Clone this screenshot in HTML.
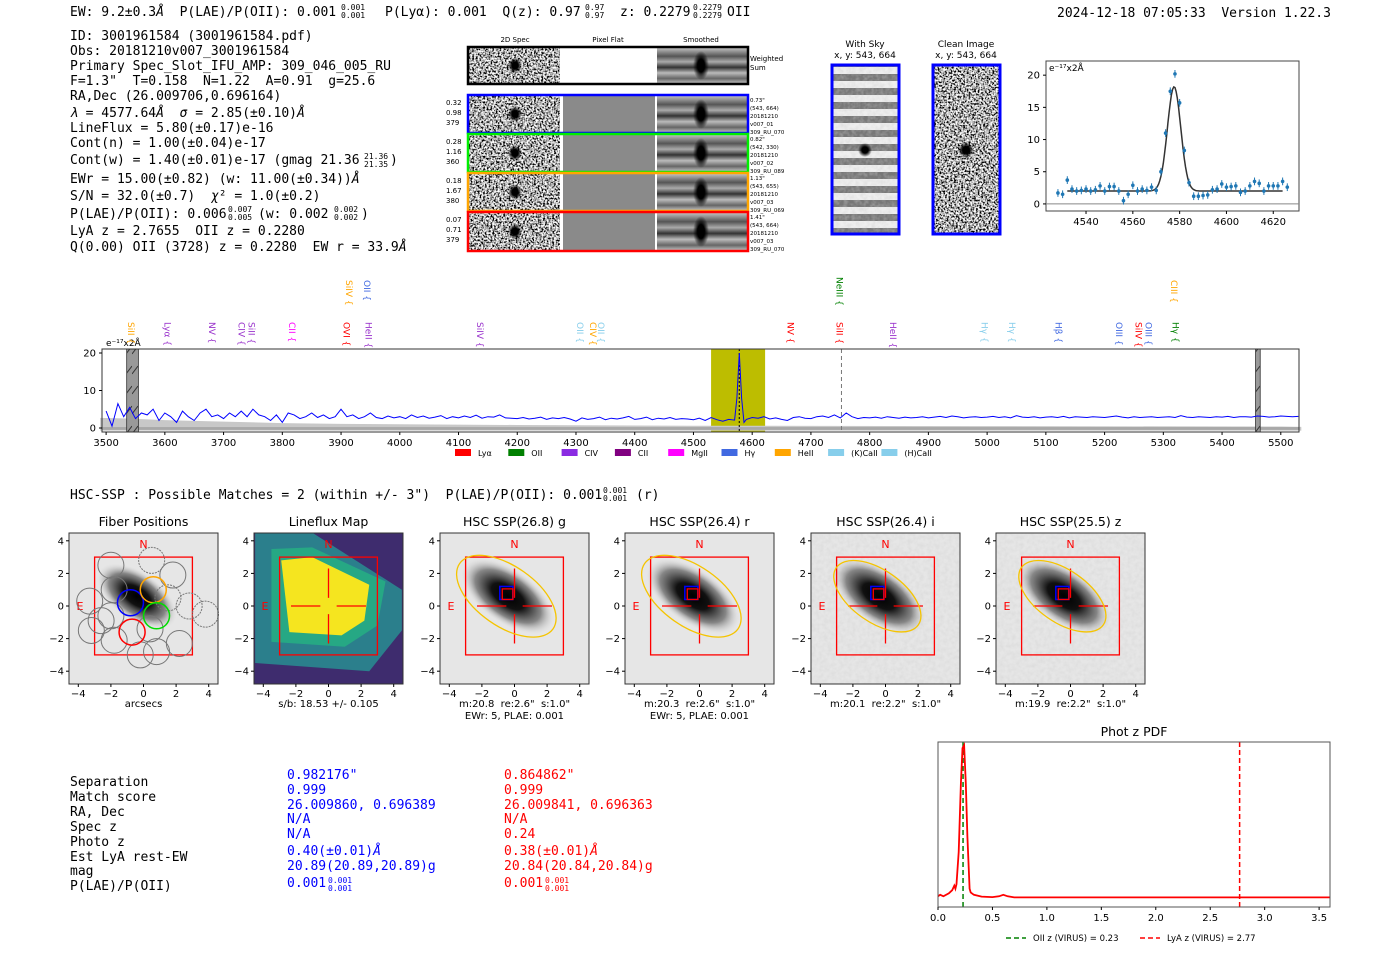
<!DOCTYPE html>
<html><head><meta charset="utf-8">
<style>
body{margin:0;background:#fff;width:1400px;height:953px;overflow:hidden}
svg{display:block}
svg text{white-space:pre}
.m{font-family:"DejaVu Sans Mono","Liberation Mono",monospace;fill:#000}
.m:not([font-size]){font-size:13px}
.s{font-family:"DejaVu Sans","Liberation Sans",sans-serif}
.t{font-family:"DejaVu Sans","Liberation Sans",sans-serif;fill:#000}
.t:not([font-size]){font-size:10px}
</style></head>
<body>
<svg id="root" width="1400" height="953" viewBox="0 0 1400 953" xmlns="http://www.w3.org/2000/svg">
<defs>
<filter id="noise" x="0" y="0" width="100%" height="100%"><feTurbulence type="fractalNoise" baseFrequency="0.55" numOctaves="2" seed="3"/><feColorMatrix type="matrix" values="3.2 0 0 0 -1.15  3.2 0 0 0 -1.15  3.2 0 0 0 -1.15  0 0 0 0 1"/><feComposite in2="SourceGraphic" operator="in"/></filter>
<filter id="noise2" x="0" y="0" width="100%" height="100%"><feTurbulence type="fractalNoise" baseFrequency="0.25" numOctaves="2" seed="7"/><feColorMatrix type="matrix" values="0 0 0 0 0.6  0 0 0 0 0.6  0 0 0 0 0.6  0 0 0 -1.2 0.8"/><feComposite in2="SourceGraphic" operator="in"/></filter>
<radialGradient id="blob"><stop offset="0" stop-color="#000"/><stop offset="0.45" stop-color="#000"/><stop offset="1" stop-color="#000" stop-opacity="0"/></radialGradient>
<radialGradient id="gal"><stop offset="0" stop-color="#000"/><stop offset="0.35" stop-color="#111"/><stop offset="0.7" stop-color="#666" stop-opacity="0.75"/><stop offset="1" stop-color="#ddd" stop-opacity="0"/></radialGradient>
<linearGradient id="smooth" x1="0" y1="0" x2="0" y2="1"><stop offset="0" stop-color="#ccc"/><stop offset="0.25" stop-color="#555"/><stop offset="0.4" stop-color="#aaa"/><stop offset="0.55" stop-color="#333"/><stop offset="0.7" stop-color="#bbb"/><stop offset="0.85" stop-color="#666"/><stop offset="1" stop-color="#ccc"/></linearGradient>
<pattern id="stripes" width="10" height="14" patternUnits="userSpaceOnUse"><rect width="10" height="14" fill="#eee"/><rect y="4" width="10" height="7" fill="#777"/></pattern>
<pattern id="hatch" width="6" height="20" patternUnits="userSpaceOnUse"><rect width="6" height="20" fill="#999"/><line x1="0" y1="14" x2="6" y2="6" stroke="#333" stroke-width="1"/></pattern>
</defs>

<g>
<text class="m" x="70" y="16">EW: 9.2±0.3<tspan font-style="italic">Å</tspan>  P(LAE)/P(OII): 0.001</text>
<text class="m" x="341" y="10" font-size="8">0.001</text><text class="m" x="341" y="18" font-size="8">0.001</text>
<text class="m" x="385" y="16">P(Lyα): 0.001  Q(z): 0.97</text>
<text class="m" x="585" y="10" font-size="8">0.97</text><text class="m" x="585" y="18" font-size="8">0.97</text>
<text class="m" x="620" y="16">z: 0.2279</text>
<text class="m" x="693" y="10" font-size="8">0.2279</text><text class="m" x="693" y="18" font-size="8">0.2279</text>
<text class="m" x="727" y="16">OII</text>
<text class="m" x="1057" y="17">2024-12-18 07:05:33  Version 1.22.3</text>
</g>

<g>
<text class="m" x="70" y="40">ID: 3001961584 (3001961584.pdf)</text>
<text class="m" x="70" y="55">Obs: 20181210v007_3001961584</text>
<text class="m" x="70" y="70">Primary Spec_Slot_IFU_AMP: 309_046_005_RU</text>
<text class="m" x="70" y="85">F=1.3"  T=0.158  N=1.22  A=0.91  g=25.6</text>
<text class="m" x="70" y="100">RA,Dec (26.009706,0.696164)</text>
<text class="m" x="70" y="117"><tspan font-style="italic">λ</tspan> = 4577.64<tspan font-style="italic">Å</tspan>  <tspan font-style="italic">σ</tspan> = 2.85(±0.10)<tspan font-style="italic">Å</tspan></text>
<text class="m" x="70" y="132">LineFlux = 5.80(±0.17)e-16</text>
<text class="m" x="70" y="147">Cont(n) = 1.00(±0.04)e-17</text>
<text class="m" x="70" y="164">Cont(w) = 1.40(±0.01)e-17 (gmag 21.36</text>
<text class="m" x="364" y="159" font-size="8">21.36</text><text class="m" x="364" y="167" font-size="8">21.35</text><text class="m" x="390" y="164">)</text>
<text class="m" x="70" y="183">EWr = 15.00(±0.82) (w: 11.00(±0.34))<tspan font-style="italic">Å</tspan></text>
<text class="m" x="70" y="200">S/N = 32.0(±0.7)  <tspan font-style="italic">χ</tspan>² = 1.0(±0.2)</text>
<text class="m" x="70" y="218">P(LAE)/P(OII): 0.006</text>
<text class="m" x="228" y="212" font-size="8">0.007</text><text class="m" x="228" y="220" font-size="8">0.005</text>
<text class="m" x="258" y="218">(w: 0.002</text><text class="m" x="334" y="212" font-size="8">0.002</text><text class="m" x="334" y="220" font-size="8">0.002</text><text class="m" x="361" y="218">)</text>
<text class="m" x="70" y="235">LyA z = 2.7655  OII z = 0.2280</text>
<text class="m" x="70" y="251">Q(0.00) OII (3728) z = 0.2280  EW r = 33.9<tspan font-style="italic">Å</tspan></text>
</g>

<g id="spec2d">
<text class="t" x="515" y="42" font-size="7" text-anchor="middle">2D Spec</text>
<text class="t" x="608" y="42" font-size="7" text-anchor="middle">Pixel Flat</text>
<text class="t" x="701" y="42" font-size="7" text-anchor="middle">Smoothed</text>
<text class="t" x="750" y="61" font-size="7">Weighted</text><text class="t" x="750" y="70" font-size="7">Sum</text>
</g>

<g>
<text class="t" x="865" y="47" text-anchor="middle" font-size="9">With Sky</text>
<text class="t" x="865" y="58" text-anchor="middle" font-size="9">x, y: 543, 664</text>
<rect x="832" y="65" width="67" height="169" fill="url(#stripes)"/>
<rect x="832" y="65" width="67" height="169" fill="#888" filter="url(#noise2)" opacity="0.6"/>
<circle cx="865" cy="150" r="7" fill="url(#blob)"/>
<rect x="832" y="65" width="67" height="169" fill="none" stroke="#00f" stroke-width="3"/>
<text class="t" x="966" y="47" text-anchor="middle" font-size="9">Clean Image</text>
<text class="t" x="966" y="58" text-anchor="middle" font-size="9">x, y: 543, 664</text>
<rect x="933" y="65" width="67" height="169" fill="#8c8c8c"/>
<rect x="933" y="65" width="67" height="169" fill="#888" filter="url(#noise)"/>
<circle cx="966" cy="150" r="8" fill="url(#blob)"/>
<rect x="933" y="65" width="67" height="169" fill="none" stroke="#00f" stroke-width="3"/>
</g>

<g id="zoomspec"></g>
<g id="mainspec"></g>

<text class="m" x="70" y="499">HSC-SSP : Possible Matches = 2 (within +/- 3")  P(LAE)/P(OII): 0.001</text>
<text class="m" x="603" y="493" font-size="8">0.001</text><text class="m" x="603" y="501" font-size="8">0.001</text>
<text class="m" x="636" y="499">(r)</text>

<g id="panels"></g>

<g>
<text class="m" x="70" y="786">Separation</text>
<text class="m" x="70" y="801">Match score</text>
<text class="m" x="70" y="816">RA, Dec</text>
<text class="m" x="70" y="831">Spec z</text>
<text class="m" x="70" y="846">Photo z</text>
<text class="m" x="70" y="861">Est LyA rest-EW</text>
<text class="m" x="70" y="875">mag</text>
<text class="m" x="70" y="890">P(LAE)/P(OII)</text>
<text class="m" style="fill:#00f" x="287" y="779">0.982176"</text>
<text class="m" style="fill:#00f" x="287" y="794">0.999</text>
<text class="m" style="fill:#00f" x="287" y="809">26.009860, 0.696389</text>
<text class="m" style="fill:#00f" x="287" y="823">N/A</text>
<text class="m" style="fill:#00f" x="287" y="838">N/A</text>
<text class="m" style="fill:#00f" x="287" y="855">0.40(±0.01)<tspan font-style="italic">Å</tspan></text>
<text class="m" style="fill:#00f" x="287" y="870">20.89(20.89,20.89)g</text>
<text class="m" style="fill:#00f" x="287" y="887">0.001</text>
<text class="m" style="fill:#00f" x="328" y="883" font-size="8">0.001</text><text class="m" style="fill:#00f" x="328" y="891" font-size="8">0.001</text>
<text class="m" style="fill:#f00" x="504" y="779">0.864862"</text>
<text class="m" style="fill:#f00" x="504" y="794">0.999</text>
<text class="m" style="fill:#f00" x="504" y="809">26.009841, 0.696363</text>
<text class="m" style="fill:#f00" x="504" y="823">N/A</text>
<text class="m" style="fill:#f00" x="504" y="838">0.24</text>
<text class="m" style="fill:#f00" x="504" y="855">0.38(±0.01)<tspan font-style="italic">Å</tspan></text>
<text class="m" style="fill:#f00" x="504" y="870">20.84(20.84,20.84)g</text>
<text class="m" style="fill:#f00" x="504" y="887">0.001</text>
<text class="m" style="fill:#f00" x="545" y="883" font-size="8">0.001</text><text class="m" style="fill:#f00" x="545" y="891" font-size="8">0.001</text>
</g>

<g id="photz"></g>
</svg>

<script>
// ===== data =====
const specWave = [3500,3510,3520,3530,3540,3550,3560,3570,3580,3590,3600,3610,3620,3630,3640,3650,3660,3670,3680,3690,3700,3710,3720,3730,3740,3750,3760,3770,3780,3790,3800,3810,3820,3830,3840,3850,3860,3870,3880,3890,3900,3910,3920,3930,3940,3950,3960,3970,3980,3990,4000,4010,4020,4030,4040,4050,4060,4070,4080,4090,4100,4110,4120,4130,4140,4150,4160,4170,4180,4190,4200,4210,4220,4230,4240,4250,4260,4270,4280,4290,4300,4310,4320,4330,4340,4350,4360,4370,4380,4390,4400,4410,4420,4430,4440,4450,4460,4470,4480,4490,4500,4510,4520,4530,4540,4550,4560,4570,4574,4578,4582,4586,4590,4600,4610,4620,4630,4640,4650,4660,4670,4680,4690,4700,4710,4720,4730,4740,4750,4760,4770,4780,4790,4800,4810,4820,4830,4840,4850,4860,4870,4880,4890,4900,4910,4920,4930,4940,4950,4960,4970,4980,4990,5000,5010,5020,5030,5040,5050,5060,5070,5080,5090,5100,5110,5120,5130,5140,5150,5160,5170,5180,5190,5200,5210,5220,5230,5240,5250,5260,5270,5280,5290,5300,5310,5320,5330,5340,5350,5360,5370,5380,5390,5400,5410,5420,5430,5440,5450,5460,5470,5480,5490,5500,5510,5520,5530];
const specFlux = [4.5,0.5,6.5,3,5.5,2.5,4,3.5,5,2, 4,3,1.5,4.5,3,2,4,5,3,3.5, 2.5,4,3,4.5,3,5,3.5,3,2,3.5, 1.5,4,3.5,2.5,3,4,2.8,3.5,2.5,3, 5,3,3.5,2.5,3,4,2.8,2.5,3.2,2.7, 3,2.5,3.5,2.8,3.2,2.6,2.9,3.3,2.5,3, 2.7,3.2,2.8,3.4,2.6,3,2.9,3.5,2.7,2.6, 2.5,2.8,2.4,2.6,2.9,2.3,2.7,2.5,2.8,2.4, 1.8,2.7,2.3,2.5,2.9,2.2,2.6,2.4,2.7,3.1, 2.3,2.5,2.9,2.2,2.6,2.4,2.8,2.3,2.5,2.4, 2.2,2.6,2,2.8,2.2,1.8,2.3,2.1,8,20,8,1.5,2.3, 2.8,2.6,3,2.4,2.7,2.3,2,2.8,3,2.6, 2.5,3,3.2,2.8,3.5,2.7,4,3,2.5,2.8, 2.7,2.9,2.6,3,2.8,2.6,2.9,2.7,2.8,3, 2.7,2.9,3.1,2.8,3.2,3,2.7,2.9,3,2.8, 2.9,3.1,2.8,3,2.7,3.3,2.9,2.8,3,2.7, 2.9,3,2.8,3.1,2.7,3,2.9,2.8,3,2.9, 2.8,3,3.2,2.9,2.7,3,2.8,2.9,3,2.8, 2.9,3,2.8,3.3,2.9,2.8,3,2.9,2.8,3, 2.9,3.1,2.8,3,3,2.9,3.2,3.1,2.9,3, 3.2,3.1,3,3.1];
const errWave = [3490,3540,3600,3700,3800,3900,4000,4200,4500,5000,5500,5535];
const errTop = [2.7,2.5,2.1,1.7,1.3,1.1,1.0,0.8,0.6,0.5,0.4,0.3];
const specTicks = [3500,3600,3700,3800,3900,4000,4100,4200,4300,4400,4500,4600,4700,4800,4900,5000,5100,5200,5300,5400,5500];
const specYTicks = [0,10,20];
const lineNames = ["SiII","Lyα","NV","CIV","SiII","CII","OVI","HeII","SiIV","OII","CIV","OII","NV","SiII","HeII","Hγ","Hγ","Hβ","OIII","SiIV","OIII","Hγ","SiIV","OII","NeIII","CIII"];
const lineWave = [3546,3608,3684,3734,3751,3820,3913,3950,4140,4310,4332,4346,4669,4752,4843,4999,5046,5125,5228,5261,5278,5324,3917,3948,4752,5322];
const lineRow = [0,0,0,0,0,0,0,0,0,0,0,0,0,0,0,0,0,0,0,0,0,0,1,1,2,1];
const lineColor = ["#ffa500","#9932cc","#9932cc","#9932cc","#9932cc","#ff00ff","#ff0000","#9932cc","#9932cc","#87ceeb","#ffa500","#87ceeb","#ff0000","#ff0000","#9932cc","#87ceeb","#87ceeb","#4169e1","#4169e1","#ff0000","#4169e1","#008000","#ffa500","#4169e1","#008000","#ffa500"];
const legendNames = ["Lyα","OII","CIV","CII","MgII","Hγ","HeII","(K)CaII","(H)CaII"];
const legendColors = ["#ff0000","#008000","#8a2be2","#800080","#ff00ff","#4169e1","#ffa500","#87ceeb","#87ceeb"];

const fitWave = [4528,4530,4532,4534,4536,4538,4540,4542,4544,4546,4548,4550,4552,4554,4556,4558,4560,4562,4564,4566,4568,4570,4572,4574,4576,4578,4580,4582,4584,4586,4588,4590,4592,4594,4596,4598,4600,4602,4604,4606,4608,4610,4612,4614,4616,4618,4620,4622,4624,4626];
const fitFlux = [1.7,1.5,3.7,2.3,2.0,2.1,2.3,2.0,2.2,2.8,2.0,2.7,2.7,2.0,0.5,1.5,2.9,2.0,2.3,2.1,2.6,2.1,5.0,11.0,17.5,20.2,15.7,8.3,3.3,1.2,1.2,1.3,1.4,2.2,2.3,3.1,2.6,2.7,2.8,1.8,2.0,2.8,3.5,3.2,2.0,2.8,2.8,2.8,3.5,2.6];
const fitParams = [4577.64, 2.85, 16.2, 2.0];
const fitXTicks = [4540,4560,4580,4600,4620];
const fitYTicks = [0,5,10,15,20];

const photzZ = [0,0.02,0.05,0.1,0.13,0.15,0.16,0.17,0.19,0.21,0.225,0.24,0.255,0.27,0.29,0.3,0.33,0.4,0.5,0.56,0.6,0.64,0.7,1.0,2.0,3.0,3.6];
const photzP = [0.01,0.02,0.01,0.03,0.05,0.08,0.06,0.09,0.3,0.75,0.98,1.0,0.75,0.4,0.06,0.035,0.02,0.008,0.005,0.01,0.02,0.01,0.003,0.003,0.003,0.003,0.003];
const photzTicks = [0,0.5,1.0,1.5,2.0,2.5,3.0,3.5];
const photzMarks = [0.23,2.77];

const panelTitles = ["Fiber Positions","Lineflux Map","HSC SSP(26.8) g","HSC SSP(26.4) r","HSC SSP(26.4) i","HSC SSP(25.5) z"];
const panelCaps = [["arcsecs"],["s/b: 18.53 +/- 0.105"],['m:20.8  re:2.6"  s:1.0"',"EWr: 5, PLAE: 0.001"],['m:20.3  re:2.6"  s:1.0"',"EWr: 5, PLAE: 0.001"],['m:20.1  re:2.2"  s:1.0"'],['m:19.9  re:2.2"  s:1.0"']];
const panelTicks = [-4,-2,0,2,4];
const fiberX = [-2,0.5,-1.8,-3.3,-2,1.5,2.8,-3.2,-1.8,0.8,2.2,-0.2,1.8,-2.6,3.8,0.4];
const fiberY = [2.5,2.8,1,0.3,-0.6,0.5,0,-1.5,-2.1,-2.8,-2.3,-3,1.9,-0.9,-0.5,-1.4];
const fiberCX = [-0.8,0.6,0.8,-0.7];
const fiberCY = [0.2,1.0,-0.6,-1.6];
const fiberCol = ["#0000ff","#ffa500","#00dd00","#ff0000"];

const SVGNS = "http://www.w3.org/2000/svg";
function mk(tag, attrs, parent, txt){const e=document.createElementNS(SVGNS,tag);for(const k in attrs)e.setAttribute(k,attrs[k]);if(txt!==undefined)e.textContent=txt;parent.appendChild(e);return e;}

(function(){
 const g=document.getElementById('spec2d');
 const rows=[[47,84,"#000"],[95,133,"#0000ff"],[134,172,"#00ee00"],[173,211,"#ffa500"],[212,251,"#ff0000"]];
 const lab=[null,["0.32","0.98","379"],["0.28","1.16","360"],["0.18","1.67","380"],["0.07","0.71","379"]];
 const rl=[null,['0.73"',"(543, 664)","20181210","v007_01","309_RU_070"],['0.82"',"(542, 330)","20181210","v007_02","309_RU_089"],['1.13"',"(543, 655)","20181210","v007_03","309_RU_069"],['1.41"',"(543, 664)","20181210","v007_03","309_RU_070"]];
 rows.forEach((r,i)=>{
  const y=r[0],h=r[1]-r[0];
  const a=mk('rect',{x:469,y:y,width:91,height:h,fill:'#999'},g);
  
  
  mk('rect',{x:469,y:y,width:91,height:h,fill:'#777',filter:'url(#noise)'},g);
  mk('ellipse',{cx:515,cy:y+h/2,rx:7,ry:8,fill:'url(#blob)'},g);
  const pf=mk('rect',{x:563,y:y,width:92,height:h,fill:i===0?'#fff':'#8a8a8a'},g);
  
  
  const sm=mk('rect',{x:657,y:y,width:90,height:h,fill:'url(#smooth)'},g);
  
  
  mk('ellipse',{cx:701,cy:y+h/2,rx:8,ry:h/2-4,fill:'url(#blob)'},g);
  mk('rect',{x:468,y:y,width:280,height:h,fill:'none',stroke:r[2],'stroke-width':2.5},g);
  if(lab[i]) lab[i].forEach((t,j)=>{mk('text',{class:'t',x:446,y:y+10+j*10,'font-size':7},g,t);});
  if(rl[i]) rl[i].forEach((t,j)=>{mk('text',{class:'t',x:750,y:y+7+j*8,'font-size':5.5},g,t);});
 });
})();

(function(){
 const g=document.getElementById('zoomspec');
 const L=1046,R=1299,T=61,B=211,x0=4522.9,x1=4631,y0=-1.1,y1=22.2;
 const X=v=>L+(v-x0)/(x1-x0)*(R-L), Y=v=>B-(v-y0)/(y1-y0)*(B-T);
 mk('rect',{x:L,y:T,width:R-L,height:B-T,fill:'#fff',stroke:'#444','stroke-width':1},g);
 mk('line',{x1:L,x2:R,y1:Y(0),y2:Y(0),stroke:'#888','stroke-width':1},g);
 fitXTicks.forEach(t=>{mk('line',{x1:X(t),x2:X(t),y1:B,y2:B+3,stroke:'#000'},g);const e=mk('text',{class:'t',x:X(t),y:B+14,'text-anchor':'middle'},g,t);});
 fitYTicks.forEach(t=>{mk('line',{x1:L-3,x2:L,y1:Y(t),y2:Y(t),stroke:'#000'},g);const e=mk('text',{class:'t',x:L-6,y:Y(t)+3.5,'text-anchor':'end'},g,t);});
 mk('text',{class:'t',x:L+3,y:T+10,'font-size':9},g,'e⁻¹⁷x2Å');
 let d='';
 for(let w=4532;w<=4624;w+=0.5){const f=fitParams[3]+fitParams[2]*Math.exp(-0.5*Math.pow((w-fitParams[0])/fitParams[1],2));d+=(d?'L':'M')+X(w).toFixed(1)+','+Y(f).toFixed(1);}
 const fl=mk('path',{d:d,fill:'none',stroke:'#333','stroke-width':1.5},g);
 
 
 fitWave.forEach((w,i)=>{
  mk('line',{x1:X(w),x2:X(w),y1:Y(fitFlux[i]-0.6),y2:Y(fitFlux[i]+0.6),stroke:'#1f77b4','stroke-width':1},g);
  const p=mk('circle',{cx:X(w),cy:Y(fitFlux[i]),r:1.8,fill:'#1f77b4'},g);
  
  
 });
})();

(function(){
 const g=document.getElementById('mainspec');
 const L=102,R=1299,T=349,B=432,x0=3493,x1=5531,y0=-1.07,y1=21.07;
 const X=v=>L+(v-x0)/(x1-x0)*(R-L), Y=v=>B-(v-y0)/(y1-y0)*(B-T);
 mk('rect',{x:L,y:T,width:R-L,height:B-T,fill:'#fff'},g);
 const band=mk('rect',{x:X(4530),y:T,width:X(4622)-X(4530),height:B-T,fill:'#bdbd00'},g);
 
 
 let d='M'+X(errWave[0])+','+Y(-0.7);
 errWave.forEach((w,i)=>{d+='L'+X(w).toFixed(1)+','+Y(errTop[i]).toFixed(1);});
 d+='L'+X(errWave[errWave.length-1])+','+Y(-0.7)+'Z';
 const eb=mk('path',{d:d,fill:'#c8c8c8'},g);
 
 
 mk('rect',{x:L,y:Y(0.25),width:R-L,height:Y(-0.5)-Y(0.25),fill:'#a8a8a8'},g);
 [[3535,3555],[5457,5465]].forEach(m=>{const h=mk('rect',{x:X(m[0]),y:T,width:X(m[1])-X(m[0]),height:B-T,fill:'url(#hatch)',stroke:'#333','stroke-width':0.8},g);});
 mk('line',{x1:X(4752),x2:X(4752),y1:T,y2:B,stroke:'#777','stroke-dasharray':'4,3','stroke-width':1},g);
 mk('line',{x1:X(4578),x2:X(4578),y1:T,y2:B,stroke:'#000','stroke-dasharray':'2,2','stroke-width':1},g);
 let p='';
 specWave.forEach((w,i)=>{p+=(p?'L':'M')+X(w).toFixed(1)+','+Y(specFlux[i]).toFixed(1);});
 const sl=mk('path',{d:p,fill:'none',stroke:'#0000ff','stroke-width':1},g);
 
 
 mk('rect',{x:L,y:T,width:R-L,height:B-T,fill:'none',stroke:'#333','stroke-width':1},g);
 specTicks.forEach(t=>{mk('line',{x1:X(t),x2:X(t),y1:B,y2:B+3,stroke:'#000'},g);const e=mk('text',{class:'t',x:X(t),y:B+14,'text-anchor':'middle'},g,t);});
 specYTicks.forEach(t=>{mk('line',{x1:L-3,x2:L,y1:Y(t),y2:Y(t),stroke:'#000'},g);const e=mk('text',{class:'t',x:L-6,y:Y(t)+3.5,'text-anchor':'end'},g,t);});
 mk('text',{class:'t',x:106,y:346,'font-size':9},g,'e⁻¹⁷x2Å');
 lineNames.forEach((n,i)=>{
  const yy=lineRow[i]===1?280:(lineRow[i]===2?277:322);
  const e=mk('text',{class:'s','font-size':9,fill:lineColor[i],x:X(lineWave[i])-3,y:yy},g,n+' {');
  e.setAttribute('style','writing-mode:vertical-rl');
  
  
 });
 legendNames.forEach((n,i)=>{
  const lx=455+i*53.3;
  const sw=mk('rect',{x:lx,y:449,width:16,height:7,fill:legendColors[i]},g);
  
  
  const lt=mk('text',{class:'t','font-size':8,x:lx+23,y:456},g,n);
  
  
 });
})();

(function(){
 const g=document.getElementById('panels');
 const lefts=[69,254,440,625,811,996];
 lefts.forEach((L,k)=>{
  const W=149,T=533,H=151,cx=L+W/2,cy=606,s=16.3;
  const X=v=>cx+v*s, Y=v=>cy-v*s;
  const pg=mk('g',{},g);
  
  
  const tt=mk('text',{class:'s','font-size':12.5,x:cx,y:526,'text-anchor':'middle'},pg,panelTitles[k]);
  
  
  if(k===1){
   mk('rect',{x:L,y:T,width:W,height:H,fill:'#3e2c6e'},pg);
   mk('polygon',{points:[[X(-4.5),Y(4.5)],[X(-1),Y(4.5)],[X(4.5),Y(1)],[X(4.5),Y(-1.5)],[X(2.5),Y(-4)],[X(-4.5),Y(-3.5)]].join(' '),fill:'#2b7f8c'},pg);
   mk('polygon',{points:[[X(-3.5),Y(3.5)],[X(-1),Y(3.6)],[X(3.5),Y(1.5)],[X(3),Y(-1.2)],[X(1),Y(-2.5)],[X(-3.5),Y(-2.2)]].join(' '),fill:'#26a884'},pg);
   mk('polygon',{points:[[X(-2.9),Y(2.8)],[X(-1),Y(3.0)],[X(2.5),Y(1.3)],[X(2.2),Y(-0.9)],[X(0.8),Y(-1.8)],[X(-2.4),Y(-1.6)]].join(' '),fill:'#f5e51f'},pg);
  } else {
   mk('rect',{x:L,y:T,width:W,height:H,fill:'#e6e6e6'},pg);
   if(k>=4) mk('rect',{x:L,y:T,width:W,height:H,fill:'#999',filter:'url(#noise2)',opacity:0.5},pg);
   mk('ellipse',{cx:X(-0.4),cy:Y(0.6),rx:k===0?46:54,ry:k===0?24:27,fill:'url(#gal)',transform:`rotate(35 ${X(-0.4)} ${Y(0.6)})`},pg);
  }
  mk('rect',{x:X(-3),y:Y(3),width:6*s,height:6*s,fill:'none',stroke:'#f00','stroke-width':1.3},pg);
  mk('text',{class:'s','font-size':11,fill:'#f00',x:cx,y:Y(3.8)+4,'text-anchor':'middle'},pg,'N');
  mk('text',{class:'s','font-size':11,fill:'#f00',x:X(-3.9),y:cy+4,'text-anchor':'middle'},pg,'E');
  if(k===0){
   fiberX.forEach((fx,i)=>{const c=mk('circle',{cx:X(fx),cy:Y(fiberY[i]),r:13,fill:'none',stroke:'#777','stroke-width':1,'stroke-dasharray':(i===1||i===5||i===6||i===14)?'2,1':'none'},pg);});
   fiberCX.forEach((fx,i)=>{const c=mk('circle',{cx:X(fx),cy:Y(fiberCY[i]),r:13,fill:'none',stroke:fiberCol[i],'stroke-width':1.5},pg);});
  } else {
   [[[-2.3,0],[-0.5,0]],[[0.5,0],[2.3,0]],[[0,2.3],[0,0.5]],[[0,-0.5],[0,-2.3]]].forEach(l=>mk('line',{x1:X(l[0][0]),y1:Y(l[0][1]),x2:X(l[1][0]),y2:Y(l[1][1]),stroke:'#f00','stroke-width':1.3},pg));
  }
  if(k>=2){
   mk('ellipse',{cx:X(-0.5),cy:Y(0.6),rx:k<4?57:50,ry:k<4?30:26,fill:'none',stroke:'#f5c400','stroke-width':1.3,transform:`rotate(35 ${X(-0.5)} ${Y(0.6)})`},pg);
   mk('rect',{x:X(-0.9),y:Y(1.2),width:0.8*s,height:0.8*s,fill:'none',stroke:'#00f','stroke-width':1.5},pg);
   mk('rect',{x:X(-0.75),y:Y(1.05),width:0.65*s,height:0.65*s,fill:'none',stroke:'#f00','stroke-width':1.3},pg);
  }
  mk('rect',{x:L,y:T,width:W,height:H,fill:'none',stroke:'#333','stroke-width':1},pg);
  panelTicks.forEach(t=>{
   mk('line',{x1:X(t),x2:X(t),y1:T+H,y2:T+H+3,stroke:'#000'},pg);
   const a=mk('text',{class:'t',x:X(t),y:T+H+13,'text-anchor':'middle'},pg,t<0?'−'+(-t):t);
   
   
   mk('line',{x1:L-3,x2:L,y1:Y(t),y2:Y(t),stroke:'#000'},pg);
   const b=mk('text',{class:'t',x:L-5,y:Y(t)+3.5,'text-anchor':'end'},pg,t<0?'−'+(-t):t);
   
   
  });
  panelCaps[k].forEach((c,j)=>{const e=mk('text',{class:'t',x:cx,y:707+j*12,'text-anchor':'middle'},pg,c);});
 });
})();

(function(){
 const g=document.getElementById('photz');
 const L=938,R=1330,T=742,B=907,x0=0,x1=3.6,y0=-0.06,y1=1.02;
 const X=v=>L+(v-x0)/(x1-x0)*(R-L), Y=v=>B-(v-y0)/(y1-y0)*(B-T);
 mk('text',{class:'s','font-size':12.5,x:(L+R)/2,y:736,'text-anchor':'middle'},g,'Phot z PDF');
 let d='';
 photzZ.forEach((z,i)=>{d+=(d?'L':'M')+X(z).toFixed(1)+','+Y(photzP[i]).toFixed(1);});
 mk('line',{x1:X(photzMarks[0]),x2:X(photzMarks[0]),y1:T,y2:B,stroke:'#008000','stroke-width':1.5,'stroke-dasharray':'5,3'},g);
 mk('line',{x1:X(photzMarks[1]),x2:X(photzMarks[1]),y1:T,y2:B,stroke:'#f00','stroke-width':1.5,'stroke-dasharray':'5,3'},g);
 const pl=mk('path',{d:d,fill:'none',stroke:'#f00','stroke-width':1.8},g);
 
 
 mk('rect',{x:L,y:T,width:R-L,height:B-T,fill:'none',stroke:'#555','stroke-width':1},g);
 photzTicks.forEach(t=>{mk('line',{x1:X(t),x2:X(t),y1:B,y2:B+3,stroke:'#000'},g);const e=mk('text',{class:'t',x:X(t),y:B+14,'text-anchor':'middle'},g,t.toFixed(1));});
 mk('line',{x1:1006,x2:1026,y1:938,y2:938,stroke:'#008000','stroke-width':1.5,'stroke-dasharray':'5,3'},g);
 const l1=mk('text',{class:'t','font-size':8.5,x:1033,y:941},g,'OII z (VIRUS) = 0.23');
 
 
 mk('line',{x1:1140,x2:1160,y1:938,y2:938,stroke:'#f00','stroke-width':1.5,'stroke-dasharray':'5,3'},g);
 const l2=mk('text',{class:'t','font-size':8.5,x:1167,y:941},g,'LyA z (VIRUS) = 2.77');
 
 
})();
</script>
</body></html>
